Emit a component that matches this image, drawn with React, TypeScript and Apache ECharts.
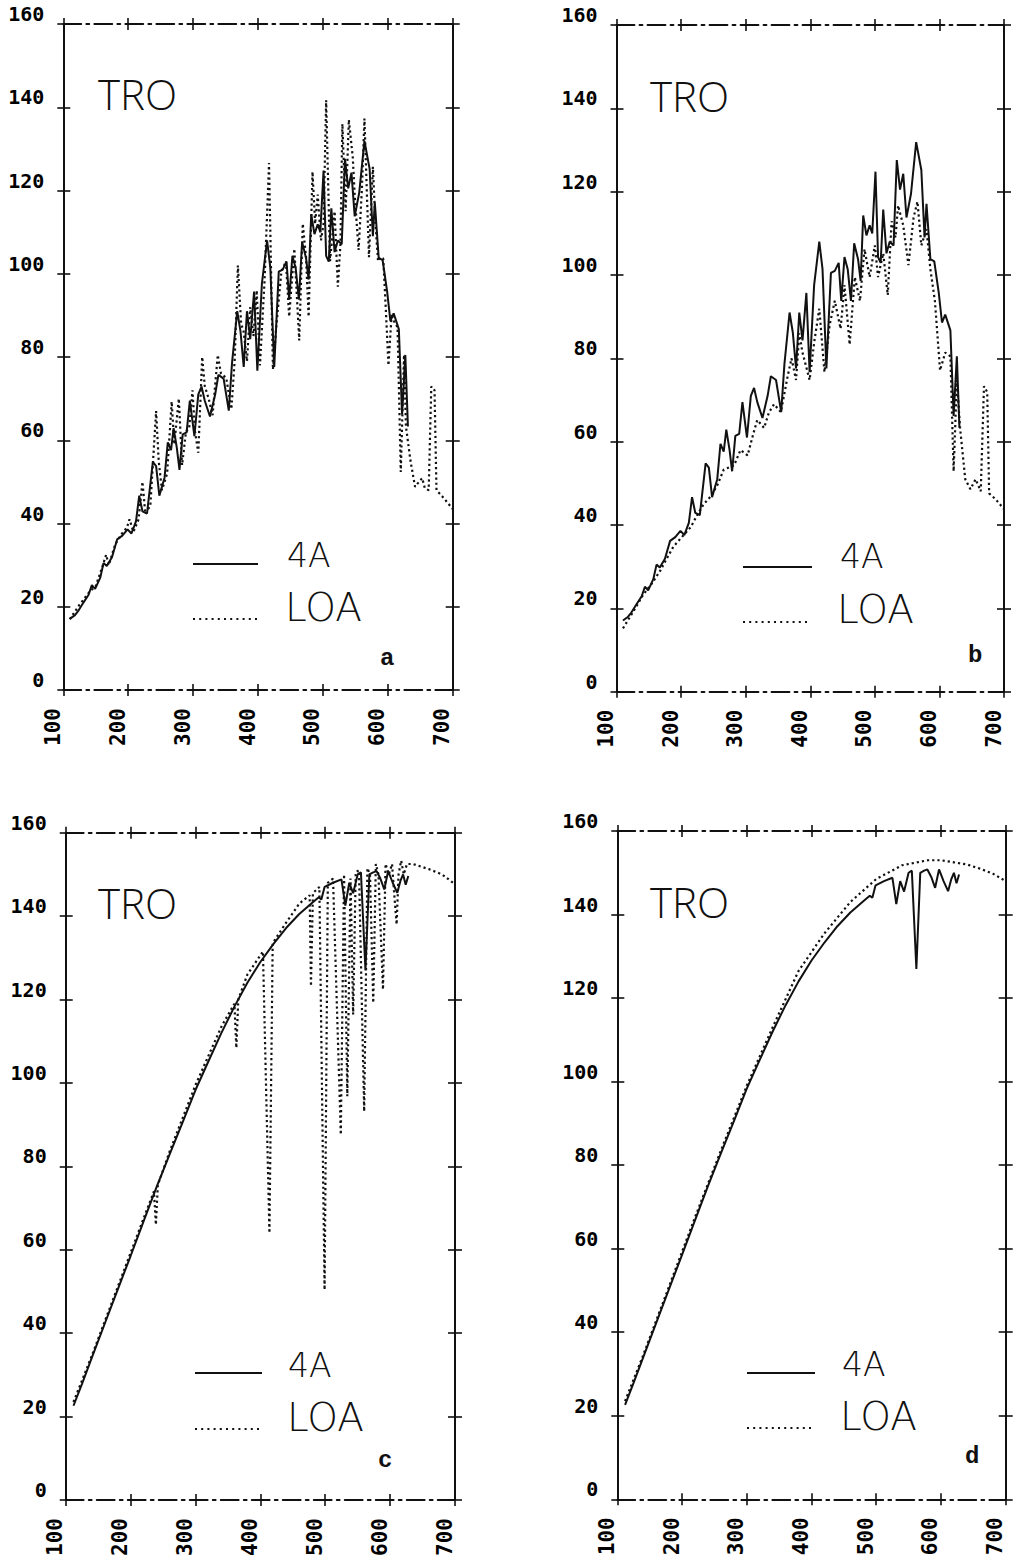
import React, { useEffect, useRef } from "react";
import * as echarts from "echarts";

// ---------- axis ticks ----------
const xTicks = [100, 200, 300, 400, 500, 600, 700];
const yTicks = [0, 20, 40, 60, 80, 100, 120, 140, 160];

// ---------- texts ----------
const panelTitle = "TRO";
const seriesNames = ["4A", "LOA"];
const panelLetters = ["a", "b", "c", "d"];

// ---------- data (wavenumber, value) ----------
// 4A, panels a and b
const tro4A_ab: [number, number][] = [
  [110, 17.1], [118, 18], [123, 19], [131, 21], [139, 22.9], [144, 25.2], [149, 24.3], [157, 27],
  [162, 30.5], [167, 29.8], [175, 31.9], [183, 36.2], [191, 37.1], [199, 38.6], [205, 37.6],
  [212, 40.5], [217, 46.7], [222, 42.9], [229, 42.4], [238, 54.8], [243, 53.8], [248, 46.7],
  [256, 51], [261, 59.5], [266, 57.6], [270, 62.9], [275, 58.1], [279, 52.9], [284, 61.4],
  [290, 61.9], [295, 69.5], [302, 61], [308, 71], [313, 72.9], [318, 69.5], [326, 65.7],
  [334, 71], [339, 75.7], [347, 74.8], [355, 67.1], [360, 78.6], [368, 91], [373, 86.2],
  [378, 77.6], [383, 91], [388, 84.3], [394, 95.7], [399, 76.7], [406, 97.6], [414, 108],
  [419, 101.4], [425, 77.6], [432, 100.5], [438, 101], [444, 102.9], [448, 93.8], [453, 104.3],
  [458, 101.4], [463, 93.8], [468, 107.6], [474, 103.8], [478, 98.6], [482, 114.3], [487, 109.5],
  [492, 111.9], [496, 110], [501, 124.8], [505, 104.3], [509, 102.9], [513, 115.7], [518, 105.2],
  [523, 108], [529, 107.1], [534, 127.6], [539, 120.5], [544, 124.3], [549, 113.8], [556, 119.5],
  [564, 131.9], [572, 125.2], [577, 109], [580, 117.1], [586, 103.8], [592, 103.3], [599, 95.7],
  [604, 88.6], [609, 90.5], [617, 86.7], [622, 66.2], [627, 80.5], [631, 63.3],
];

// LOA, panel a
const troLOA_a: [number, number][] = [
  [110, 17], [125, 20.5], [140, 23.5], [150, 25], [160, 29.5], [166, 32.5], [170, 30], [180, 35],
  [190, 37.5], [198, 39], [202, 41], [208, 38], [216, 41], [222, 50], [226, 43], [234, 44],
  [243, 67], [247, 55], [252, 48], [260, 52], [267, 69.3], [271, 59], [278, 70], [283, 54],
  [289, 62], [294, 63], [299, 72], [303, 62], [308, 57], [314, 80], [318, 73], [324, 70],
  [330, 66], [338, 80.5], [343, 76], [351, 75], [359, 67.5], [364, 79], [369, 102], [374, 88],
  [378, 86], [383, 79], [388, 92], [393, 85], [398, 96], [403, 78], [410, 98], [417, 126.6],
  [423, 77], [428, 87], [436, 100.5], [443, 103], [448, 89.7], [456, 106], [463.5, 84], [469, 112],
  [474, 104], [478, 89.7], [484, 124.5], [488, 112], [492, 119], [497, 108], [501, 112],
  [505, 141.7], [511, 103], [518, 115], [523, 96.9], [527, 107], [530, 136], [535, 115],
  [540, 137], [546, 128], [549, 119], [555, 105.7], [560, 120], [564, 137.3], [571, 104],
  [577, 125.7], [581, 112], [585, 103], [589, 104], [593, 103.6], [597, 91.3], [601, 78],
  [606, 90.4], [611, 88], [615, 87.2], [620, 52.4], [625, 80.5], [628, 63.3], [635, 55],
  [642, 48.8], [648, 50], [653, 50.9], [657, 48.5], [663, 48], [667, 72.9], [672, 72],
  [675, 48], [684, 46.5], [692, 45], [700, 43.5],
];

// LOA, panel b
const troLOA_b: [number, number][] = [
  [110, 15.2], [125, 19], [141.5, 23.3], [155, 26], [167.5, 29], [178, 32], [188, 34.8],
  [204, 37.6], [215, 39.5], [225, 42.4], [235, 45], [245, 46.7], [256, 49.5], [266, 53.3],
  [282, 54.3], [292, 58], [303, 56.7], [312, 62], [318, 65.2], [328.5, 63.3], [336, 67],
  [344, 69], [354.5, 67.1], [365, 75.7], [371, 80], [378, 74.8], [383, 86], [388, 81.4],
  [399, 74.8], [406.5, 84.3], [414, 91.9], [422, 76.7], [430, 88], [438, 93.8], [447, 87.1],
  [453, 97.6], [461, 83.3], [469, 99.5], [477, 93.8], [484, 106.2], [492, 99.5], [500, 107.1],
  [505, 99.5], [513, 105.2], [520, 95.2], [526, 112.9], [532, 109], [536, 116.7], [544, 111.9],
  [552, 102.4], [560, 113.8], [566, 117.6], [572, 107.1], [580, 111], [586, 101.4], [593, 93.8],
  [601, 77.1], [609, 81.4], [617, 80.5], [622, 52.9], [627, 74.8], [632, 63.3], [640, 51],
  [648, 48.6], [656, 51], [664, 48.1], [669, 73.3], [674, 71.9], [677, 47.6], [687, 46.2],
  [700, 43.8],
];

// 4A, panels c and d
const tro4A_cd: [number, number][] = [
  [112, 22.6], [125, 27.8], [140, 34], [160, 42.2], [180, 50.4], [200, 58.5], [220, 66.8],
  [240, 75], [260, 82.8], [280, 90.5], [300, 98.3], [320, 105.2], [340, 112], [360, 118.3],
  [380, 124], [400, 129], [420, 133.3], [440, 137.2], [460, 140.5], [480, 143.2], [490, 144.5],
  [494, 144], [499, 147], [512, 148], [525, 148.8], [531, 142.5], [537, 148], [543, 145.5],
  [550, 150], [555, 150.5], [562, 127], [568, 150], [574, 150.5], [579, 150.8], [585, 149],
  [591, 146.4], [597, 150.8], [604, 148], [611, 145.6], [616, 148.5], [620, 150], [624, 147.5],
  [628, 149.6],
];

// LOA, panel c
const troLOA_c: [number, number][] = [
  [112, 23.5], [140, 34.5], [180, 51], [220, 67.5], [236, 74], [239, 66], [242, 75.5],
  [260, 83.5], [300, 99.5], [340, 113.5], [360, 119], [363, 108.4], [366, 120], [380, 126],
  [404, 131.5], [414, 64], [419, 133.5], [440, 138.5], [460, 143], [476, 145], [478, 123.2],
  [481, 145.5], [491, 147], [499, 50.4], [504, 148], [512, 149], [524, 87.6], [529, 150],
  [534, 96.8], [539, 149], [543, 116.4], [547, 150.5], [552, 151], [560, 93.2], [565, 151.5],
  [569, 150], [574, 119.2], [578, 152.5], [582, 150], [589, 122.4], [593, 152.5], [598, 150],
  [603, 152.5], [606, 146], [610, 138], [613, 150], [617, 153.3], [621, 150], [626, 152.5],
  [635, 152.5], [661, 151.2], [680, 150], [697, 148], [700, 147.5],
];

// LOA, panel d
const troLOA_d: [number, number][] = [
  [112, 23.5], [140, 34.5], [180, 51], [220, 67.5], [260, 83.5], [300, 99], [340, 113],
  [380, 126.5], [420, 135.5], [460, 143], [500, 148.5], [540, 151.8], [580, 153], [600, 153],
  [620, 152.5], [640, 152], [660, 151], [680, 149.8], [700, 148],
];

const panelData = [
  [tro4A_ab, troLOA_a],
  [tro4A_ab, troLOA_b],
  [tro4A_cd, troLOA_c],
  [tro4A_cd, troLOA_d],
];

// ---------- layout ----------
const grids = [
  { left: 63.3, top: 24, width: 389.4, height: 666 },
  { left: 616.5, top: 25, width: 387.5, height: 666.7 },
  { left: 65.7, top: 832.7, width: 389.3, height: 667.3 },
  { left: 617.3, top: 831, width: 388.4, height: 668.3 },
];

const decor = [
  { tro: [98, 93], t4A: [287, 555], tLOA: [285, 607.5], sol: [193, 258, 564], dot: [193, 257, 619], let: [380, 658] },
  { tro: [650, 95], t4A: [840, 556.5], tLOA: [837, 609], sol: [743, 812, 567], dot: [743, 810, 622], let: [968, 655] },
  { tro: [98, 902.5], t4A: [288, 1365], tLOA: [287, 1417], sol: [195, 262, 1373], dot: [195, 260, 1429], let: [378, 1460] },
  { tro: [650, 901], t4A: [842, 1364], tLOA: [840, 1416.5], sol: [747, 815, 1373], dot: [747, 813, 1428], let: [965, 1456] },
];

const INK = "#111";
const MONO = "'DejaVu Sans Mono', monospace";
const PLOT = "'Open Sans', 'DejaVu Sans', sans-serif";
const LEG = "'DejaVu Sans', 'Open Sans', sans-serif";
const DOT = [2.2, 3];
const DASHDOT = [18, 5, 3, 5];

function buildOption() {
  const xAxis: any[] = [];
  const yAxis: any[] = [];
  const series: any[] = [];
  const graphic: any[] = [];
  const tick = { color: INK, width: 1.6 };

  grids.forEach((_, i) => {
    const xb = {
      type: "value", gridIndex: i, min: xTicks[0], max: xTicks[xTicks.length - 1],
      interval: xTicks[1] - xTicks[0], splitLine: { show: false },
    };
    const yb = {
      type: "value", gridIndex: i, min: yTicks[0], max: yTicks[yTicks.length - 1],
      interval: yTicks[1] - yTicks[0], splitLine: { show: false },
    };
    xAxis.push({
      ...xb, position: "bottom",
      axisLine: { show: true, onZero: false, lineStyle: { color: INK, width: 1.8, type: DASHDOT } },
      axisTick: { show: true, inside: false, length: 6, lineStyle: tick },
      axisLabel: {
        show: true, rotate: 90, margin: 18, verticalAlign: "bottom", color: "#000",
        fontFamily: MONO, fontWeight: "bold", fontSize: 21,
      },
    });
    xAxis.push({
      ...xb, position: "bottom",
      axisLine: { show: false, onZero: false },
      axisTick: { show: true, inside: true, length: 6, lineStyle: tick },
      axisLabel: { show: false },
    });
    xAxis.push({
      ...xb, position: "top",
      axisLine: { show: true, onZero: false, lineStyle: { color: INK, width: 1.8, type: DASHDOT } },
      axisTick: { show: true, inside: false, length: 6, lineStyle: tick },
      axisLabel: { show: false },
    });
    xAxis.push({
      ...xb, position: "top",
      axisLine: { show: false, onZero: false },
      axisTick: { show: true, inside: true, length: 6, lineStyle: tick },
      axisLabel: { show: false },
    });
    yAxis.push({
      ...yb, position: "left",
      axisLine: { show: true, onZero: false, lineStyle: { color: INK, width: 2 } },
      axisTick: { show: true, inside: false, length: 6, lineStyle: tick },
      axisLabel: {
        show: true, margin: 19, verticalAlign: "bottom", color: "#000",
        fontFamily: MONO, fontWeight: "bold", fontSize: 20,
      },
    });
    yAxis.push({
      ...yb, position: "left",
      axisLine: { show: false, onZero: false },
      axisTick: { show: true, inside: true, length: 7, lineStyle: tick },
      axisLabel: { show: false },
    });
    yAxis.push({
      ...yb, position: "right",
      axisLine: { show: true, onZero: false, lineStyle: { color: INK, width: 2 } },
      axisTick: { show: true, inside: false, length: 7, lineStyle: tick },
      axisLabel: { show: false },
    });
    yAxis.push({
      ...yb, position: "right",
      axisLine: { show: false, onZero: false },
      axisTick: { show: true, inside: true, length: 7, lineStyle: tick },
      axisLabel: { show: false },
    });

    const [d4A, dLOA] = panelData[i];
    series.push({
      name: seriesNames[0], type: "line", xAxisIndex: 4 * i, yAxisIndex: 4 * i,
      data: d4A, showSymbol: false, symbol: "none", silent: true, z: 3,
      lineStyle: { color: INK, width: 2, type: "solid" },
    });
    series.push({
      name: seriesNames[1], type: "line", xAxisIndex: 4 * i, yAxisIndex: 4 * i,
      data: dLOA, showSymbol: false, symbol: "none", silent: true, z: 4,
      lineStyle: { color: INK, width: 2.2, type: DOT },
    });

    const dc = decor[i];
    graphic.push({
      type: "text", x: dc.tro[0], y: dc.tro[1], silent: true,
      style: { text: panelTitle, fill: INK, fontFamily: PLOT, fontWeight: 300, fontSize: 42, align: "left", verticalAlign: "middle" },
    });
    graphic.push({
      type: "text", x: dc.t4A[0], y: dc.t4A[1], silent: true,
      style: { text: seriesNames[0], fill: INK, fontFamily: LEG, fontWeight: 200, fontSize: 33, align: "left", verticalAlign: "middle" },
    });
    graphic.push({
      type: "text", x: dc.tLOA[0], y: dc.tLOA[1], silent: true,
      style: { text: seriesNames[1], fill: INK, fontFamily: LEG, fontWeight: 200, fontSize: 39, align: "left", verticalAlign: "middle" },
    });
    graphic.push({
      type: "line", silent: true,
      shape: { x1: dc.sol[0], y1: dc.sol[2], x2: dc.sol[1], y2: dc.sol[2] },
      style: { stroke: INK, lineWidth: 2 },
    });
    graphic.push({
      type: "line", silent: true,
      shape: { x1: dc.dot[0], y1: dc.dot[2], x2: dc.dot[1], y2: dc.dot[2] },
      style: { stroke: INK, lineWidth: 2, lineDash: [2, 4.2] },
    });
    graphic.push({
      type: "text", x: dc.let[0], y: dc.let[1], silent: true,
      style: { text: panelLetters[i], fill: INK, fontFamily: "'Liberation Mono', monospace", fontWeight: "bold", fontSize: 24, align: "left", verticalAlign: "middle" },
    });
  });

  return {
    animation: false,
    backgroundColor: "#fff",
    grid: grids.map((g) => ({ ...g, containLabel: false, outerBoundsMode: "none" })),
    xAxis,
    yAxis,
    series,
    graphic,
  };
}

export default function App() {
  const ref = useRef<HTMLDivElement>(null);
  useEffect(() => {
    if (!ref.current) return;
    const chart = echarts.init(ref.current, null, { renderer: "svg", width: 1015, height: 1560 });
    chart.setOption(buildOption() as any);
    return () => chart.dispose();
  }, []);
  return (
    <div
      ref={ref}
      style={{ position: "absolute", left: 0, top: 0, width: 1015, height: 1560, background: "#fff" }}
    />
  );
}
